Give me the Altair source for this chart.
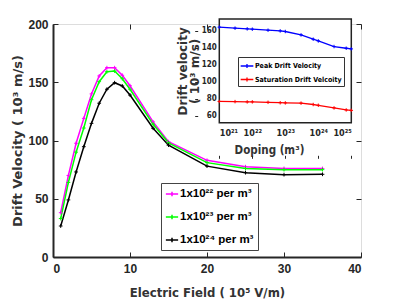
import altair as alt
import pandas as pd

# ---- main chart data ----
field = [1, 2, 3, 4, 5, 6, 7, 8, 9, 10, 13, 15, 20, 25, 30, 35]
v_1e22 = [38, 70, 97.6, 119, 140, 155.4, 162.5, 162.5, 156, 147, 116, 99, 83, 77.5, 76, 76]
v_1e23 = [33, 64, 90, 110.7, 135, 150.5, 159, 159.6, 153, 144, 114, 98, 81, 76, 75, 75]
v_1e24 = [26.6, 49, 73, 94.7, 114.7, 132, 144, 149.6, 146.8, 139, 110.5, 96, 78, 72.4, 70.7, 71]
series_names = ["1x10²² per m³", "1x10²³ per m³", "1x10²⁴ per m³"]
series_colors = ["#ff00ff", "#00ff00", "#000000"]

# ---- inset data ----
doping = [1e21, 3e21, 7e21, 1e22, 3e22, 7e22, 1e23, 3e23, 7e23, 1e24, 3e24, 7e24, 1e25]
peak = [164.4, 163.2, 162.4, 162, 160.8, 160, 159.3, 155.3, 150.2, 148.2, 141.6, 139.6, 138.8]
sat = [77, 76.8, 76.5, 76.5, 76, 75.5, 75.3, 75, 73.4, 72.5, 69.4, 67, 66.5]
inset_names = ["Peak Drift Velocity", "Saturation Drift Velcoity"]
inset_colors = ["#0000ff", "#ff0000"]

main_df = pd.DataFrame({
    "E": field * 3,
    "v": v_1e22 + v_1e23 + v_1e24,
    "s": [series_names[0]] * len(field) + [series_names[1]] * len(field) + [series_names[2]] * len(field),
})
inset_df = pd.DataFrame({
    "N": doping * 2,
    "v": peak + sat,
    "k": [inset_names[0]] * len(doping) + [inset_names[1]] * len(doping),
})

W, H = 308, 233
FONT = "DejaVu Sans"
CFONT = "DejaVu Sans Condensed"
LFONT = "Liberation Sans"
AX = "#262626"
PLUS = "M-1,0L1,0M0,-1L0,1"

# ---------------- main panel ----------------
xs = alt.Scale(domain=[0, 40], nice=False)
ys = alt.Scale(domain=[0, 200], nice=False)
xticks = [0, 10, 20, 30, 40]
yticks = [0, 50, 100, 150, 200]

main_lines = alt.Chart(main_df).mark_line(
    strokeWidth=1.5,
    point=alt.OverlayMarkDef(shape=PLUS, filled=False, size=14, strokeWidth=1),
).encode(
    x=alt.X("E:Q", scale=xs, axis=alt.Axis(
        orient="bottom", values=xticks, ticks=False, domainColor=AX, domainWidth=2,
        labelFont=LFONT, labelFontWeight="bold", labelFontSize=12, labelColor=AX, labelPadding=6,
        title="Electric Field ( 10⁵ V/m)", titleFont=CFONT, titleFontWeight="bold",
        titleFontSize=13, titleColor="#333333", titlePadding=12, grid=False)),
    y=alt.Y("v:Q", scale=ys, axis=alt.Axis(
        orient="left", values=yticks, ticks=False, domainColor=AX, domainWidth=2,
        labelFont=LFONT, labelFontWeight="bold", labelFontSize=12, labelColor=AX, labelPadding=5,
        title="Drift Velocity ( 10³ m/s)", titleFont=FONT, titleFontWeight="bold",
        titleFontSize=13, titleColor="#333333", titlePadding=3, grid=False)),
    color=alt.Color("s:N", scale=alt.Scale(domain=series_names, range=series_colors),
                    legend=alt.Legend(
                        orient="none", legendX=108, legendY=159, title=None,
                        symbolType="M-1,0L1,0M0,-0.35L0,0.35", symbolSize=150, symbolStrokeWidth=1.5,
                        labelFont=LFONT, labelFontWeight="bold", labelFontSize=11.5, labelColor="#000000",
                        rowPadding=10, padding=4, strokeColor="#444444", fillColor="white",
                        labelOffset=1, symbolOffset=0)),
)

def tick_layer(df, xf, yf, xsc, ysc, xaxis, yaxis):
    return alt.Chart(df).mark_point(opacity=0).encode(
        x=alt.X(xf, scale=xsc, axis=xaxis),
        y=alt.Y(yf, scale=ysc, axis=yaxis),
    )

def inward(orient, values, offset, size=5, color=AX):
    return alt.Axis(orient=orient, values=values, offset=offset, labels=False, domain=False,
                    tickSize=size, tickColor=color, tickWidth=1, title=None, grid=False)

main_t1 = tick_layer(main_df, "E:Q", "v:Q", xs, ys,
                     inward("top", xticks, -H), inward("right", yticks, -W))
main_t2 = tick_layer(main_df, "E:Q", "v:Q", xs, ys,
                     inward("bottom", xticks, -H), inward("left", yticks, -W))

main_layer = alt.layer(main_lines, main_t1, main_t2).resolve_axis(x="independent", y="independent")

# ---------------- inset panel ----------------
ix0, ix1 = 166.3, 298.3
iy0, iy1 = 98.7, -5
ixs = alt.Scale(type="log", domain=[1e21, 1e25], range=[ix0, ix1], nice=False)
iys = alt.Scale(domain=[52, 174], range=[iy0, iy1], nice=False, zero=False)
ixticks = [1e21, 1e22, 1e23, 1e24, 1e25]
iyticks = [60, 80, 100, 120, 140, 160]
lab = ("datum.value < 5e21 ? '10²¹' : datum.value < 5e22 ? '10²²' : "
       "datum.value < 5e23 ? '10²³' : datum.value < 5e24 ? '10²⁴' : '10²⁵'")

inset_box = alt.Chart(pd.DataFrame({"a": [0]})).mark_rect(
    fill="white", stroke="#222222", strokeWidth=1.5
).encode(
    x=alt.X(datum=1e21, scale=ixs, axis=alt.Axis(
        orient="bottom", offset=-(H - iy0), values=ixticks, labelExpr=lab, ticks=False, domain=False,
        labelFont=CFONT, labelFontWeight="bold", labelFontSize=9, labelColor=AX, labelPadding=6,
        title="Doping (m³)", titleFont=CFONT, titleFontWeight="bold", titleFontSize=11.5,
        titleColor="#333333", titlePadding=7, titleX=216, grid=False)),
    x2=alt.X2(datum=1e25),
    y=alt.Y(datum=52, scale=iys, axis=alt.Axis(
        orient="left", offset=-ix0, values=iyticks, ticks=False, domain=False,
        labelFont=CFONT, labelFontWeight="bold", labelFontSize=8, labelColor=AX, labelPadding=3,
        title=["Drift velocity", "( 10³ m/s)"], titleFont=FONT, titleFontWeight="bold",
        titleFontSize=12, titleColor="#333333", titlePadding=0, titleLineHeight=12, grid=False)),
    y2=alt.Y2(datum=174),
)

inset_lines = alt.Chart(inset_df).mark_line(
    strokeWidth=1.3,
    point=alt.OverlayMarkDef(shape=PLUS, filled=False, size=12, strokeWidth=1),
).encode(
    x=alt.X("N:Q", scale=ixs, axis=None),
    y=alt.Y("v:Q", scale=iys, axis=None),
    color=alt.Color("k:N", scale=alt.Scale(domain=inset_names, range=inset_colors),
                    legend=alt.Legend(
                        orient="none", legendX=185, legendY=33, title=None,
                        symbolType="M-1,0L1,0M0,-0.3L0,0.3", symbolSize=160, symbolStrokeWidth=1.3,
                        labelFont=CFONT, labelFontWeight="bold", labelFontSize=7, labelColor="#000000",
                        rowPadding=1.5, padding=2, strokeColor="#333333", fillColor="white",
                        labelOffset=1, symbolOffset=0)),
)

in_t1 = tick_layer(inset_df, "N:Q", "v:Q", ixs, iys,
                   inward("top", ixticks, -(H - iy0), 3), inward("right", iyticks, -ix0, 3))
in_t2 = tick_layer(inset_df, "N:Q", "v:Q", ixs, iys,
                   inward("bottom", ixticks, -(H - iy0) - (iy0 - iy1), 3),
                   inward("left", iyticks, -ix1, 3))

inset_layer = alt.layer(inset_box, inset_lines, in_t1, in_t2).resolve_axis(x="independent", y="independent")

chart = alt.layer(main_layer, inset_layer).resolve_scale(
    x="independent", y="independent", color="independent"
).properties(
    width=W, height=H,
    autosize=alt.AutoSizeParams(type="none"),
    padding={"left": 45, "top": 16, "right": 30, "bottom": 42},
).configure_view(stroke="#444444", strokeWidth=1.2).configure(background="white")

chart.save("out.html", embed_options={"renderer": "svg", "actions": False})
